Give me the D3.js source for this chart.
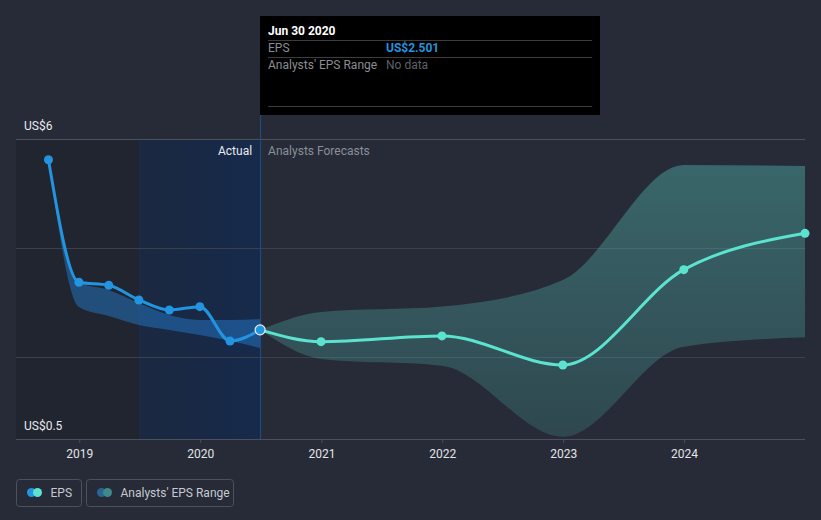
<!DOCTYPE html>
<html>
<head>
<meta charset="utf-8">
<script src="https://cdn.jsdelivr.net/npm/d3@7"></script>
<style>
  html, body { margin: 0; padding: 0; background: #262b37; }
  svg { display: block; font-family: Roboto, "Open Sans", sans-serif; }
</style>
</head>
<body>
<svg id="chart" width="821" height="520"></svg>
<script>
// ---- data ----
const histDates = ["2018-09-30", "2018-12-31", "2019-03-31", "2019-06-30", "2019-09-30", "2019-12-31", "2020-03-31", "2020-06-30"];
const histEps   = [5.62, 3.373, 3.318, 3.049, 2.865, 2.926, 2.297, 2.501];
const histLow   = [5.62, 2.92, 2.755, 2.59, 2.50, 2.407, 2.30, 2.17];
const histHigh  = [5.62, 3.373, 3.232, 2.994, 2.774, 2.682, 2.68, 2.70];

const fcDates = ["2020-06-30", "2020-12-31", "2021-12-31", "2022-12-31", "2023-12-31", "2024-12-31"];
const fcEps   = [2.501, 2.285, 2.39, 1.857, 3.604, 4.271];
const fcLow   = [2.501, 1.967, 1.845, 0.543, 2.193, 2.365];
const fcHigh  = [2.501, 2.83, 2.93, 3.415, 5.523, 5.505];

const yearTicks = [2019, 2020, 2021, 2022, 2023, 2024];
const gridValues = [2, 4, 6];
const yLabels = [{v: 6, t: "US$6"}, {v: 0.5, t: "US$0.5"}];
const nowDate = "2020-06-30";
const actualStart = "2019-06-30";

const tipTitle = "Jun 30 2020";
const tipRows = [["EPS", "US$2.501"], ["Analysts' EPS Range", "No data"]];
const legendItems = ["EPS", "Analysts' EPS Range"];

// ---- setup ----
const parse = d3.utcParse("%Y-%m-%d");
const svg = d3.select("#chart");
const x = d3.scaleUtc().domain([parse("2018-06-24"), parse("2024-12-31")]).range([16, 805]);
const y = d3.scaleLinear().domain([0.5, 6]).range([439, 139]);
const yTop = y(6), yBottom = y(0.5);

const hist = histDates.map((d, i) => ({d: parse(d), v: histEps[i], lo: histLow[i], hi: histHigh[i]}));
const fc = fcDates.map((d, i) => ({d: parse(d), v: fcEps[i], lo: fcLow[i], hi: fcHigh[i]}));

const defs = svg.append("defs");
const hg = defs.append("linearGradient").attr("id", "hl").attr("x1", 0).attr("x2", 1).attr("y1", 0).attr("y2", 0);
hg.append("stop").attr("offset", 0).attr("stop-color", "#1b2840");
hg.append("stop").attr("offset", 1).attr("stop-color", "#162a4b");
const fg = defs.append("linearGradient").attr("id", "fcg").attr("gradientUnits", "userSpaceOnUse")
  .attr("x1", 0).attr("x2", 0).attr("y1", y(5.6)).attr("y2", y(0.5));
fg.append("stop").attr("offset", 0).attr("stop-color", "#58c8be").attr("stop-opacity", 0.38);
fg.append("stop").attr("offset", 1).attr("stop-color", "#58c8be").attr("stop-opacity", 0.18);

// shaded regions
const xNow = x(parse(nowDate)), xAct = x(parse(actualStart));
svg.append("rect").attr("x", x.range()[0]).attr("y", yTop).attr("width", xAct - x.range()[0]).attr("height", yBottom - yTop).attr("fill", "#21252f");
svg.append("rect").attr("x", xAct).attr("y", yTop).attr("width", xNow - xAct).attr("height", yBottom - yTop).attr("fill", "url(#hl)");
svg.append("line").attr("x1", xAct + 0.5).attr("x2", xAct + 0.5).attr("y1", yTop).attr("y2", yBottom).attr("stroke", "#1f2e48").attr("stroke-width", 1);

// grid
svg.append("g").selectAll("line").data(gridValues).join("line")
  .attr("x1", 16).attr("x2", 805).attr("y1", d => Math.round(y(d)) + 0.5).attr("y2", d => Math.round(y(d)) + 0.5)
  .attr("stroke", d => d === 6 ? "#4a505c" : "#3a404c").attr("stroke-width", 1);

// bands
const area = d3.area().x(d => x(d.d)).y0(d => y(d.lo)).y1(d => y(d.hi)).curve(d3.curveMonotoneX);
svg.append("path").datum(hist).attr("d", area).attr("fill", "#2478c8").attr("fill-opacity", 0.5);
svg.append("path").datum(fc).attr("d", area).attr("fill", "url(#fcg)");

// now line
svg.append("line").attr("x1", xNow + 0.5).attr("x2", xNow + 0.5).attr("y1", 115).attr("y2", yBottom)
  .attr("stroke", "#1f4f8c").attr("stroke-width", 1);

// x axis
svg.append("line").attr("x1", 16).attr("x2", 805).attr("y1", yBottom + 0.5).attr("y2", yBottom + 0.5).attr("stroke", "#4a505c");
const xa = svg.append("g").attr("transform", `translate(0,${yBottom})`)
  .call(d3.axisBottom(x).tickValues(yearTicks.map(yv => new Date(Date.UTC(yv, 0, 1)))).tickFormat(d3.utcFormat("%Y")).tickSize(4).tickPadding(6));
xa.select(".domain").remove();
xa.selectAll(".tick line").attr("stroke", "#4a505c");
xa.selectAll(".tick text").attr("fill", "#e2e4e8").attr("font-size", 12).attr("font-family", "Roboto, sans-serif");

// y labels
svg.append("g").selectAll("text").data(yLabels).join("text")
  .attr("x", 24).attr("y", d => y(d.v) - 9).text(d => d.t)
  .attr("fill", "#e8eaee").attr("font-size", 12);

// Actual / Forecast labels
svg.append("text").attr("x", xNow - 8).attr("y", 155).attr("text-anchor", "end").text("Actual").attr("fill", "#e8eaee").attr("font-size", 12);
svg.append("text").attr("x", xNow + 8).attr("y", 155).text("Analysts Forecasts").attr("fill", "#8a8f99").attr("font-size", 12);

// lines
const line = d3.line().x(d => x(d.d)).y(d => y(d.v)).curve(d3.curveMonotoneX);
svg.append("path").datum(fc).attr("d", line).attr("fill", "none").attr("stroke", "#5ce3cf").attr("stroke-width", 3);
svg.append("path").datum(hist).attr("d", line).attr("fill", "none").attr("stroke", "#2394df").attr("stroke-width", 3);

svg.append("g").selectAll("circle").data(fc.slice(1)).join("circle")
  .attr("cx", d => x(d.d)).attr("cy", d => y(d.v)).attr("r", 4.5).attr("fill", "#5ce3cf");
svg.append("g").selectAll("circle").data(hist.slice(0, -1)).join("circle")
  .attr("cx", d => x(d.d)).attr("cy", d => y(d.v)).attr("r", 4.5).attr("fill", "#2394df");
const last = hist[hist.length - 1];
svg.append("circle").attr("cx", x(last.d)).attr("cy", y(last.v)).attr("r", 5).attr("fill", "#2394df").attr("stroke", "#e8eef5").attr("stroke-width", 1.2);

// tooltip
const tip = svg.append("g");
tip.append("rect").attr("x", 260).attr("y", 16).attr("width", 340).attr("height", 99).attr("fill", "#000");
tip.append("text").attr("x", 268).attr("y", 35).text(tipTitle).attr("fill", "#fff").attr("font-size", 12).attr("font-weight", "bold");
[40.5, 57.5, 106.5].forEach(ly => tip.append("line").attr("x1", 268).attr("x2", 592).attr("y1", ly).attr("y2", ly).attr("stroke", "#3c3c3c"));
tipRows.forEach((r, i) => {
  tip.append("text").attr("x", 268).attr("y", 52 + i * 17).text(r[0]).attr("fill", "#8b8d92").attr("font-size", 12);
  tip.append("text").attr("x", 386).attr("y", 52 + i * 17).text(r[1])
    .attr("fill", i === 0 ? "#2394df" : "#5f6166").attr("font-size", 12).attr("font-weight", i === 0 ? "bold" : "normal");
});

// legend
const lg = svg.append("g");
const boxes = [{x: 16.5, w: 65}, {x: 86.5, w: 147}];
const iconCols = [["#2394df", "#5ce3cf"], ["#2a6496", "#3f8a88"]];
legendItems.forEach((t, i) => {
  const b = boxes[i];
  lg.append("rect").attr("x", b.x).attr("y", 479.5).attr("width", b.w).attr("height", 27).attr("rx", 3)
    .attr("fill", "none").attr("stroke", "#4c515c");
  lg.append("circle").attr("cx", b.x + 15).attr("cy", 492.5).attr("r", 4.5).attr("fill", iconCols[i][0]);
  lg.append("circle").attr("cx", b.x + 21).attr("cy", 492.5).attr("r", 4.5).attr("fill", iconCols[i][1]);
  lg.append("text").attr("x", b.x + 34).attr("y", 497).text(t).attr("fill", "#c5c9d0").attr("font-size", 12);
});
</script>
</body>
</html>
